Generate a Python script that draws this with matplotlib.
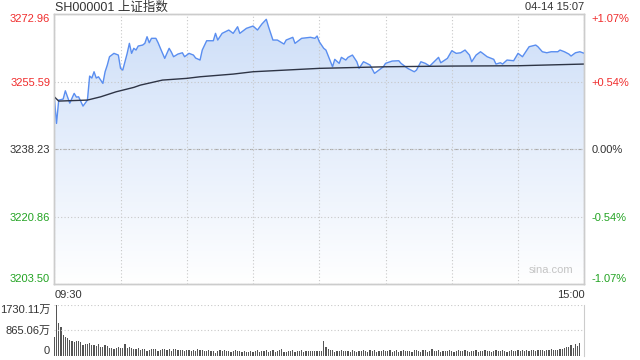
import matplotlib.pyplot as plt
import numpy as np
from matplotlib.colors import LinearSegmentedColormap

plt.rcParams['font.family'] = ['Liberation Sans', 'Noto Sans CJK SC', 'DejaVu Sans']

TITLE = "SH000001 上证指数"
STAMP = "04-14 15:07"
PREV_CLOSE = 3238.23
PRICE_TICKS = [3203.50, 3220.86, 3238.23, 3255.59, 3272.96]
PCT_TICKS = ["-1.07%", "-0.54%", "0.00%", "+0.54%", "+1.07%"]
VOL_TICKS = [0, 865.06, 1730.11]
VOL_LABELS = ["0", "865.06万", "1730.11万"]

# minute index from 09:30 (0) to 15:00 (240), lunch break collapsed
price_min = [0, 1, 2, 4, 5, 7, 9, 10, 11, 13, 15, 16, 17, 18, 19, 20, 22, 23, 24, 25,
             27, 29, 30, 31, 33, 34, 35, 36, 37, 38, 40, 41, 42, 43, 44, 46, 47, 48, 50, 52,
             53, 54, 56, 58, 59, 61, 63, 64, 66, 67, 69, 72, 73, 74, 76, 79, 81, 83, 84, 87,
             90, 92, 94, 96, 97, 99, 101, 104, 105, 108, 109, 112, 116, 118, 119, 120, 122, 123, 126, 127,
             129, 130, 132, 133, 135, 137, 138, 140, 141, 143, 145, 147, 149, 150, 153, 156, 157, 160, 163, 164,
             166, 168, 170, 172, 174, 175, 178, 180, 182, 184, 186, 188, 189, 191, 193, 194, 196, 199, 200, 202,
             203, 205, 208, 210, 212, 213, 215, 218, 219, 221, 223, 225, 228, 229, 231, 233, 234, 236, 238, 240]
price = [3251.68, 3244.84, 3250.84, 3251.09, 3253.23, 3250.06, 3252.56, 3251.61, 3251.68, 3249.29,
         3250.84, 3257.01, 3256.50, 3258.12, 3256.50, 3256.83, 3255.13, 3258.12, 3259.84, 3261.98,
         3262.85, 3262.41, 3258.99, 3258.55, 3262.85, 3265.42, 3262.85, 3264.14, 3263.70, 3264.73,
         3264.98, 3265.42, 3267.12, 3265.58, 3266.71, 3266.71, 3265.58, 3264.21, 3261.56, 3264.14,
         3263.18, 3261.98, 3262.67, 3263.00, 3261.98, 3262.85, 3262.41, 3261.64, 3261.13, 3263.70,
         3266.09, 3266.09, 3267.99, 3266.27, 3267.99, 3268.84, 3267.99, 3269.69, 3267.99, 3269.28,
         3269.87, 3268.84, 3270.39, 3271.60, 3269.69, 3266.27, 3266.27, 3265.24, 3266.27, 3266.97,
         3265.42, 3266.71, 3266.97, 3266.71, 3267.30, 3265.83, 3264.14, 3263.70, 3259.40, 3261.31,
         3260.28, 3261.82, 3261.13, 3261.82, 3262.41, 3260.69, 3258.99, 3260.69, 3260.43, 3259.84,
         3257.70, 3258.55, 3259.40, 3260.28, 3260.87, 3260.95, 3260.28, 3258.99, 3258.12, 3258.55,
         3260.69, 3260.28, 3259.58, 3260.69, 3261.82, 3260.43, 3261.56, 3263.52, 3262.85, 3263.00,
         3263.70, 3262.41, 3260.69, 3262.41, 3263.26, 3262.85, 3261.98, 3261.31, 3260.10, 3260.43,
         3260.10, 3261.13, 3260.95, 3262.85, 3261.98, 3262.85, 3264.55, 3264.98, 3264.55, 3263.26,
         3263.00, 3263.26, 3263.26, 3263.70, 3263.26, 3262.67, 3262.16, 3263.00, 3263.26, 3262.85]

avg_min = [0, 2, 15, 21, 28, 36, 39, 49, 60, 66, 81, 90, 120, 150, 180, 210, 240]
avg_price = [3251.68, 3250.58, 3250.84, 3251.68, 3252.97, 3254.10, 3254.69, 3255.98, 3256.42,
             3256.83, 3257.52, 3258.12, 3258.99, 3259.40, 3259.58, 3259.66, 3260.10]

# volume per minute, in 万
vol_am = [626, 1730, 1104, 990, 717, 626, 603, 546, 500, 478,
          489, 489, 455, 375, 398, 409, 433, 351, 362, 327,
          386, 304, 292, 351, 327, 269, 257, 234, 257, 304,
          245, 269, 409, 269, 292, 245, 210, 234, 269, 175,
          234, 210, 152, 187, 210, 210, 234, 152, 187, 210,
          210, 187, 210, 164, 234, 210, 187, 175, 180, 170,
          175, 182, 168, 175, 152, 234, 187, 175, 152, 160,
          175, 170, 152, 94, 152, 175, 152, 175, 168, 152,
          129, 152, 175, 170, 152, 129, 152, 129, 117, 152,
          129, 140, 175, 129, 152, 152, 175, 129, 152, 175,
          129, 152, 187, 210, 129, 117, 152, 152, 175, 129,
          152, 152, 175, 129, 152, 160, 152, 145, 152, 140,
          152]
vol_pm = [140, 510, 300, 230, 196, 173, 120, 165, 150, 175,
          140, 160, 170, 130, 185, 150, 120, 160, 140, 175,
          165, 130, 175, 150, 175, 120, 160, 150, 190, 140,
          150, 175, 130, 160, 185, 130, 150, 175, 140, 160,
          150, 120, 185, 200, 150, 130, 175, 190, 120, 150,
          230, 140, 160, 175, 130, 150, 160, 140, 175, 150,
          130, 160, 190, 140, 150, 175, 140, 120, 165, 150,
          175, 130, 160, 150, 175, 140, 150, 130, 160, 175,
          150, 140, 175, 160, 130, 150, 185, 160, 140, 175,
          150, 175, 160, 200, 150, 175, 190, 160, 175, 200,
          175, 160, 200, 185, 210, 175, 200, 190, 230, 210,
          265, 280, 300, 346, 270, 380, 330, 420, 0, 657]

RED, GREEN, DARK = '#f02c2c', '#22a322', '#333333'
BORDER = '#cccccc'

fig = plt.figure(figsize=(6.4, 3.6), dpi=100)
ax = fig.add_axes([54.3 / 640, 1 - 284.3 / 360, 530 / 640, 270.3 / 360])
vax = fig.add_axes([54.3 / 640, 1 - 355.5 / 360, 530 / 640, 50.5 / 360])

lo, hi = PRICE_TICKS[0], PRICE_TICKS[-1]
ax.set_xlim(0, 240)
ax.set_ylim(lo, hi)

# gradient under the price line
cmap = LinearSegmentedColormap.from_list('fill', ['#ffffff', '#cddef8'])
grad = np.linspace(0, 1, 256).reshape(-1, 1)
im = ax.imshow(grad, extent=[0, 240, lo, hi], origin='lower', aspect='auto',
               cmap=cmap, zorder=0.2)
poly = ax.fill_between(price_min, price, lo, facecolor='none', edgecolor='none')
im.set_clip_path(poly.get_paths()[0], transform=ax.transData)

ax.plot(price_min, price, color='#5a8ef0', lw=1.0, zorder=3)
ax.plot(avg_min, avg_price, color='#2e3445', lw=1.0, zorder=3)

# grid
ax.set_xticks(np.arange(0, 241, 30))
ax.set_xticklabels(['09:30'] + [''] * 7 + ['15:00'])
ax.set_yticks(PRICE_TICKS)
ax.grid(True, color='#c8c8c8', linestyle=(0, (1, 2)), lw=0.8, zorder=1)
ax.axhline(PREV_CLOSE, color='#a8a8a8', linestyle=(0, (3, 2, 1, 2)), lw=0.8, zorder=1.1)
ax.tick_params(length=0, labelsize=8, pad=3)
ax.tick_params(axis='x', pad=4, colors=DARK)
xl = ax.get_xticklabels()
xl[0].set_ha('left')
xl[-1].set_ha('right')

left_labels = [f"{p:.2f}" for p in PRICE_TICKS]
ax.set_yticklabels(left_labels)
for lab, p in zip(ax.get_yticklabels(), PRICE_TICKS):
    lab.set_color(RED if p > PREV_CLOSE else GREEN if p < PREV_CLOSE else DARK)
ylabs = ax.get_yticklabels()
ylabs[0].set_va('bottom')
ylabs[-1].set_va('top')

rax = ax.twinx()
rax.set_ylim(lo, hi)
rax.set_yticks(PRICE_TICKS)
rax.set_yticklabels(PCT_TICKS)
rax.tick_params(length=0, labelsize=8, pad=5)
for lab, p in zip(rax.get_yticklabels(), PRICE_TICKS):
    lab.set_color(RED if p > PREV_CLOSE else GREEN if p < PREV_CLOSE else DARK)
rlabs = rax.get_yticklabels()
rlabs[0].set_va('bottom')
rlabs[-1].set_va('top')

for a in (ax, rax):
    for s in a.spines.values():
        s.set_color(BORDER)
        s.set_linewidth(1.0)

ax.text(0.979, 0.053, 'sina.com', transform=ax.transAxes, ha='right', va='center',
        fontsize=8, color='#c4c4c4')

# volume panel
vol = vol_am + vol_pm
vax.bar(np.arange(len(vol)), vol, width=0.55, color='#555555', linewidth=0)
vax.set_xlim(0, 240)
vax.set_ylim(0, VOL_TICKS[-1])
vax.set_xticks([])
vax.set_yticks(VOL_TICKS)
vax.set_yticklabels(VOL_LABELS)
vax.tick_params(length=0, labelsize=8, pad=3, colors=DARK)
vax.grid(True, axis='y', color='#c8c8c8', linestyle=(0, (1, 2)), lw=0.8)
vl = vax.get_yticklabels()
vl[0].set_va('bottom')
vl[-1].set_va('top')
for side in ('top', 'bottom', 'left'):
    vax.spines[side].set_visible(False)
vax.spines['right'].set_color(BORDER)

fig.text(55 / 640, 1 - 7.5 / 360, TITLE, ha='left', va='center', fontsize=9, color=DARK)
fig.text(584 / 640, 1 - 7.5 / 360, STAMP, ha='right', va='center', fontsize=8, color=DARK)

fig.savefig('out.png', dpi=100)
